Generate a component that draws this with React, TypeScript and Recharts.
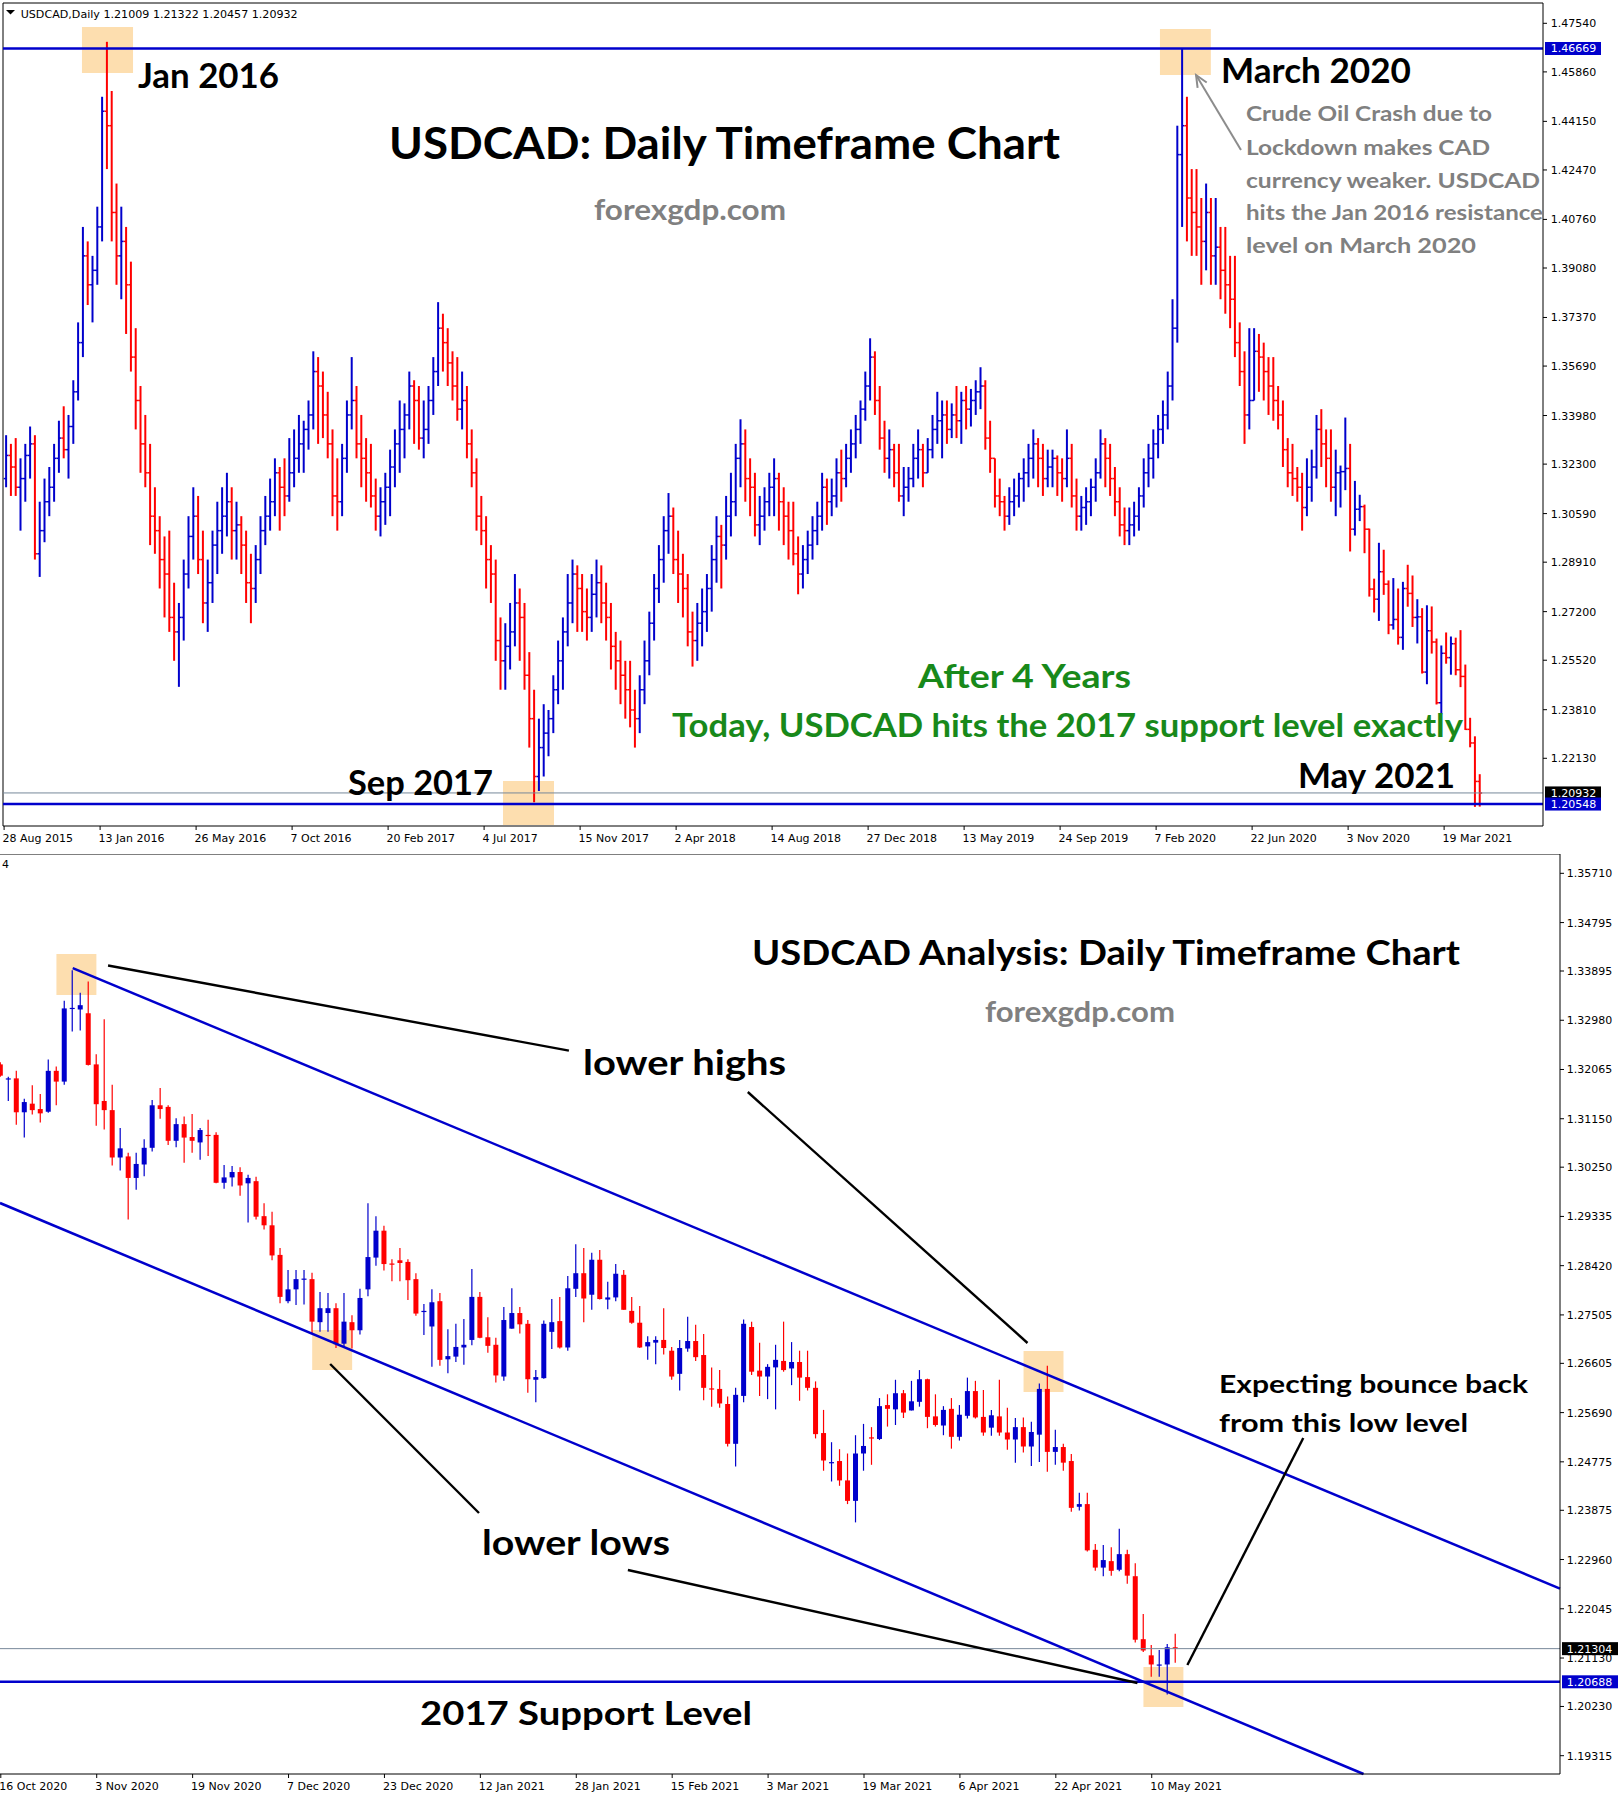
import React from "react";
import { ComposedChart, Bar, XAxis, YAxis, ReferenceLine, ReferenceArea } from "recharts";

const BLUE = "#0000CC";
const RED = "#FF0000";
const BID = "#778899";
const BOX = "#FDDEAF";
const AXIS_FONT = "'DejaVu Sans', Tahoma, sans-serif";
const NOTE_FONT = "Lato, 'Open Sans', sans-serif";

// ---- top chart: USDCAD Aug 2015 - May 2021, one bar per week (open = previous close)
const TOP_FIRST_OPEN = 1.318;
const topHigh = [
  1.333, 1.330, 1.332, 1.325, 1.330, 1.336, 1.333, 1.310, 1.318, 1.322,
  1.330, 1.338, 1.343, 1.340, 1.352, 1.372, 1.405, 1.400, 1.395, 1.412,
  1.450, 1.469, 1.452, 1.420, 1.412, 1.405, 1.393, 1.370, 1.350, 1.340,
  1.330, 1.315, 1.305, 1.298, 1.300, 1.282, 1.275, 1.290, 1.305, 1.315,
  1.312, 1.300, 1.290, 1.300, 1.310, 1.315, 1.320, 1.315, 1.310, 1.305,
  1.300, 1.292, 1.295, 1.305, 1.312, 1.318, 1.325, 1.322, 1.325, 1.332,
  1.335, 1.340, 1.338, 1.345, 1.362, 1.360, 1.355, 1.348, 1.335, 1.325,
  1.330, 1.345, 1.360, 1.350, 1.340, 1.332, 1.330, 1.318, 1.315, 1.320,
  1.328, 1.335, 1.345, 1.344, 1.355, 1.352, 1.350, 1.345, 1.350, 1.360,
  1.379, 1.375, 1.370, 1.362, 1.360, 1.355, 1.350, 1.335, 1.325, 1.312,
  1.305, 1.295, 1.290, 1.270, 1.268, 1.275, 1.285, 1.280, 1.275, 1.258,
  1.245, 1.235, 1.240, 1.238, 1.250, 1.262, 1.270, 1.285, 1.290, 1.288,
  1.285, 1.280, 1.285, 1.290, 1.288, 1.282, 1.275, 1.265, 1.262, 1.255,
  1.255, 1.245, 1.250, 1.262, 1.272, 1.285, 1.295, 1.305, 1.313, 1.308,
  1.300, 1.292, 1.285, 1.272, 1.275, 1.280, 1.285, 1.295, 1.305, 1.302,
  1.312, 1.320, 1.330, 1.3385, 1.335, 1.325, 1.320, 1.312, 1.315, 1.320,
  1.325, 1.320, 1.315, 1.310, 1.310, 1.298, 1.295, 1.300, 1.305, 1.310,
  1.320, 1.318, 1.318, 1.325, 1.328, 1.330, 1.335, 1.340, 1.345, 1.355,
  1.3665, 1.362, 1.350, 1.338, 1.335, 1.330, 1.330, 1.322, 1.322, 1.330,
  1.335, 1.330, 1.332, 1.340, 1.348, 1.345, 1.345, 1.344, 1.350, 1.348,
  1.350, 1.349, 1.352, 1.3565, 1.352, 1.338, 1.325, 1.318, 1.312, 1.315,
  1.318, 1.320, 1.325, 1.330, 1.335, 1.332, 1.330, 1.328, 1.328, 1.326,
  1.325, 1.335, 1.330, 1.318, 1.312, 1.315, 1.318, 1.325, 1.335, 1.332,
  1.330, 1.322, 1.315, 1.308, 1.308, 1.310, 1.315, 1.325, 1.330, 1.335,
  1.340, 1.345, 1.355, 1.380, 1.440, 1.4667, 1.450, 1.425, 1.425, 1.415,
  1.420, 1.415, 1.415, 1.405, 1.405, 1.395, 1.395, 1.372, 1.362, 1.370,
  1.370, 1.368, 1.365, 1.360, 1.360, 1.350, 1.345, 1.332, 1.330, 1.322,
  1.320, 1.325, 1.328, 1.340, 1.342, 1.335, 1.335, 1.328,
  1.3225, 1.3391, 1.3300, 1.3172, 1.3124, 1.3090, 1.3007, 1.2834, 1.2958, 1.2934,
  1.2828, 1.2836, 1.2800, 1.2823, 1.2882, 1.2845, 1.2763, 1.2732, 1.2742, 1.2738,
  1.2627, 1.2603, 1.2648, 1.2634, 1.2630, 1.2656, 1.2537, 1.2353, 1.2289, 1.2158,
];
const topLow = [
  1.315, 1.312, 1.312, 1.300, 1.310, 1.318, 1.290, 1.284, 1.296, 1.305,
  1.310, 1.320, 1.325, 1.318, 1.330, 1.345, 1.360, 1.378, 1.372, 1.385,
  1.400, 1.425, 1.400, 1.385, 1.380, 1.368, 1.355, 1.335, 1.320, 1.315,
  1.295, 1.292, 1.280, 1.270, 1.265, 1.255, 1.246, 1.262, 1.280, 1.290,
  1.285, 1.268, 1.265, 1.275, 1.285, 1.292, 1.298, 1.290, 1.290, 1.285,
  1.275, 1.268, 1.275, 1.285, 1.295, 1.300, 1.305, 1.300, 1.305, 1.310,
  1.315, 1.320, 1.320, 1.328, 1.335, 1.330, 1.332, 1.325, 1.305, 1.300,
  1.305, 1.320, 1.335, 1.325, 1.315, 1.310, 1.308, 1.300, 1.298, 1.302,
  1.305, 1.315, 1.320, 1.325, 1.335, 1.330, 1.328, 1.325, 1.330, 1.340,
  1.350, 1.355, 1.350, 1.345, 1.338, 1.335, 1.325, 1.315, 1.300, 1.295,
  1.280, 1.275, 1.255, 1.245, 1.245, 1.252, 1.260, 1.255, 1.245, 1.225,
  1.2061, 1.210, 1.215, 1.222, 1.230, 1.240, 1.245, 1.260, 1.268, 1.265,
  1.265, 1.262, 1.265, 1.270, 1.268, 1.262, 1.252, 1.245, 1.240, 1.235,
  1.232, 1.225, 1.230, 1.240, 1.250, 1.262, 1.275, 1.282, 1.292, 1.285,
  1.275, 1.270, 1.260, 1.253, 1.255, 1.260, 1.265, 1.272, 1.282, 1.280,
  1.290, 1.298, 1.305, 1.315, 1.310, 1.305, 1.298, 1.295, 1.300, 1.305,
  1.305, 1.300, 1.295, 1.290, 1.288, 1.278, 1.280, 1.285, 1.290, 1.295,
  1.300, 1.302, 1.305, 1.308, 1.310, 1.315, 1.320, 1.325, 1.330, 1.338,
  1.345, 1.340, 1.328, 1.320, 1.318, 1.315, 1.310, 1.305, 1.310, 1.315,
  1.318, 1.315, 1.320, 1.325, 1.330, 1.325, 1.330, 1.332, 1.332, 1.330,
  1.335, 1.336, 1.340, 1.342, 1.328, 1.320, 1.308, 1.305, 1.300, 1.302,
  1.305, 1.308, 1.310, 1.315, 1.318, 1.315, 1.312, 1.315, 1.315, 1.312,
  1.310, 1.315, 1.308, 1.300, 1.300, 1.302, 1.305, 1.310, 1.318, 1.315,
  1.312, 1.305, 1.298, 1.295, 1.295, 1.298, 1.300, 1.308, 1.315, 1.318,
  1.325, 1.330, 1.335, 1.345, 1.365, 1.405, 1.400, 1.395, 1.395, 1.385,
  1.390, 1.385, 1.385, 1.380, 1.375, 1.370, 1.360, 1.350, 1.330, 1.335,
  1.345, 1.348, 1.345, 1.340, 1.338, 1.335, 1.322, 1.315, 1.312, 1.310,
  1.300, 1.305, 1.310, 1.318, 1.322, 1.315, 1.310, 1.305,
  1.3080, 1.3140, 1.2928, 1.2983, 1.3033, 1.2922, 1.2772, 1.2717, 1.2688, 1.2778,
  1.2642, 1.2658, 1.2606, 1.2588, 1.2737, 1.2667, 1.2610, 1.2506, 1.2469, 1.2575,
  1.2399, 1.2365, 1.2540, 1.2502, 1.2500, 1.2459, 1.2311, 1.2251, 1.2045, 1.2046,
];
const topClose = [
  1.326, 1.322, 1.315, 1.318, 1.326, 1.330, 1.292, 1.300, 1.310, 1.315,
  1.325, 1.332, 1.328, 1.336, 1.348, 1.365, 1.395, 1.385, 1.390, 1.405,
  1.445, 1.440, 1.410, 1.395, 1.400, 1.385, 1.360, 1.345, 1.330, 1.320,
  1.305, 1.300, 1.290, 1.285, 1.270, 1.265, 1.270, 1.285, 1.298, 1.305,
  1.290, 1.275, 1.282, 1.295, 1.300, 1.305, 1.310, 1.300, 1.302, 1.295,
  1.282, 1.280, 1.290, 1.300, 1.305, 1.310, 1.320, 1.315, 1.312, 1.320,
  1.325, 1.330, 1.335, 1.340, 1.355, 1.350, 1.340, 1.330, 1.312, 1.310,
  1.325, 1.340, 1.345, 1.330, 1.325, 1.320, 1.312, 1.305, 1.310, 1.315,
  1.322, 1.330, 1.335, 1.340, 1.350, 1.345, 1.332, 1.335, 1.345, 1.355,
  1.370, 1.365, 1.358, 1.350, 1.342, 1.345, 1.330, 1.320, 1.305, 1.300,
  1.290, 1.285, 1.262, 1.255, 1.260, 1.265, 1.275, 1.270, 1.250, 1.235,
  1.215, 1.225, 1.230, 1.235, 1.245, 1.255, 1.265, 1.275, 1.285, 1.280,
  1.272, 1.270, 1.278, 1.282, 1.275, 1.270, 1.260, 1.255, 1.250, 1.245,
  1.238, 1.235, 1.245, 1.255, 1.268, 1.280, 1.290, 1.300, 1.305, 1.290,
  1.285, 1.280, 1.265, 1.262, 1.268, 1.272, 1.280, 1.290, 1.298, 1.295,
  1.305, 1.310, 1.325, 1.330, 1.318, 1.315, 1.302, 1.305, 1.310, 1.315,
  1.318, 1.310, 1.305, 1.300, 1.292, 1.285, 1.290, 1.295, 1.300, 1.305,
  1.315, 1.310, 1.312, 1.320, 1.318, 1.325, 1.330, 1.335, 1.342, 1.350,
  1.360, 1.345, 1.332, 1.325, 1.328, 1.320, 1.312, 1.315, 1.318, 1.325,
  1.328, 1.320, 1.328, 1.335, 1.338, 1.340, 1.335, 1.340, 1.338, 1.345,
  1.342, 1.345, 1.348, 1.350, 1.332, 1.325, 1.312, 1.310, 1.305, 1.310,
  1.312, 1.318, 1.320, 1.325, 1.330, 1.325, 1.318, 1.322, 1.325, 1.320,
  1.318, 1.325, 1.312, 1.305, 1.308, 1.310, 1.315, 1.320, 1.330, 1.325,
  1.318, 1.310, 1.302, 1.300, 1.302, 1.305, 1.312, 1.320, 1.325, 1.330,
  1.335, 1.340, 1.350, 1.370, 1.430, 1.440, 1.415, 1.410, 1.405, 1.400,
  1.410, 1.395, 1.398, 1.390, 1.385, 1.380, 1.365, 1.355, 1.340, 1.345,
  1.362, 1.360, 1.355, 1.350, 1.345, 1.340, 1.328, 1.320, 1.318, 1.315,
  1.308, 1.315, 1.322, 1.335, 1.330, 1.325, 1.315, 1.320,
  1.3204, 1.3215, 1.3005, 1.3074, 1.3083, 1.3005, 1.2798, 1.2763, 1.2858, 1.2815,
  1.2674, 1.2693, 1.2631, 1.2800, 1.2783, 1.2700, 1.2702, 1.2511, 1.2654, 1.2615,
  1.2405, 1.2576, 1.2561, 1.2609, 1.2519, 1.2496, 1.2313, 1.2266, 1.2133, 1.2093,
];
const topTickIdx = [0, 100, 200, 300, 400, 500, 600, 700, 800, 900, 1000, 1100, 1200, 1300, 1400, 1500];
const topTickLabels = [
  "28 Aug 2015", "13 Jan 2016", "26 May 2016", "7 Oct 2016", "20 Feb 2017", "4 Jul 2017",
  "15 Nov 2017", "2 Apr 2018", "14 Aug 2018", "27 Dec 2018", "13 May 2019", "24 Sep 2019",
  "7 Feb 2020", "22 Jun 2020", "3 Nov 2020", "19 Mar 2021",
];
const topPriceTicks = [
  1.4754, 1.4586, 1.4415, 1.4247, 1.4076, 1.3908, 1.3737, 1.3569, 1.3398, 1.323,
  1.3059, 1.2891, 1.272, 1.2552, 1.2381, 1.2213,
];
const TOP_RESIST = 1.46669;
const TOP_SUPPORT = 1.20548;
const TOP_BID = 1.20932;

// ---- bottom chart: daily candles 16 Oct 2020 - 13 May 2021
const botOpen = [
  1.3216, 1.3189, 1.3190, 1.3127, 1.3143, 1.3133, 1.3128, 1.3204, 1.3184, 1.3319,
  1.3318, 1.3311, 1.3216, 1.3148, 1.3131, 1.3043, 1.3045, 1.3005, 1.3030, 1.3061,
  1.3140, 1.3137, 1.3074, 1.3105, 1.3081, 1.3071, 1.3085, 1.3085, 1.2996, 1.3006,
  1.3016, 1.2995, 1.2999, 1.2934, 1.2917, 1.2862, 1.2776, 1.2798, 1.2816, 1.2817,
  1.2737, 1.2754, 1.2763, 1.2697, 1.2737, 1.2722, 1.2798, 1.2857, 1.2907, 1.2846,
  1.2852, 1.2849, 1.2817, 1.2757, 1.2729, 1.2776, 1.2668, 1.2673, 1.2690, 1.2704,
  1.2784, 1.2709, 1.2695, 1.2636, 1.2725, 1.2754, 1.2734, 1.2630, 1.2633, 1.2719,
  1.2739, 1.2690, 1.2799, 1.2828, 1.2788, 1.2853, 1.2779, 1.2783, 1.2825, 1.2758,
  1.2736, 1.2692, 1.2699, 1.2704, 1.2684, 1.2641, 1.2688, 1.2702, 1.2676, 1.2614,
  1.2613, 1.2585, 1.2511, 1.2600, 1.2728, 1.2647, 1.2636, 1.2653, 1.2665, 1.2651,
  1.2663, 1.2635, 1.2615, 1.2531, 1.2476, 1.2479, 1.2443, 1.2405, 1.2493, 1.2523,
  1.2520, 1.2583, 1.2575, 1.2605, 1.2573, 1.2589, 1.2631, 1.2562, 1.2545, 1.2576,
  1.2524, 1.2563, 1.2609, 1.2561, 1.2541, 1.2562, 1.2532, 1.2519, 1.2542, 1.2506,
  1.2528, 1.2613, 1.2496, 1.2505, 1.2479, 1.2394, 1.2399, 1.2314, 1.2281, 1.2293,
  1.2277, 1.2306, 1.2265, 1.2148, 1.2118, 1.2100, 1.2101, 1.2133,
];
const botHigh = [
  1.3220, 1.3193, 1.3204, 1.3152, 1.3177, 1.3161, 1.3225, 1.3212, 1.3334, 1.3391,
  1.3349, 1.3370, 1.3235, 1.3300, 1.3178, 1.3098, 1.3052, 1.3052, 1.3077, 1.3150,
  1.3172, 1.3140, 1.3116, 1.3119, 1.3124, 1.3098, 1.3113, 1.3090, 1.3029, 1.3027,
  1.3025, 1.3011, 1.3007, 1.2958, 1.2942, 1.2875, 1.2834, 1.2834, 1.2834, 1.2829,
  1.2793, 1.2791, 1.2772, 1.2791, 1.2750, 1.2799, 1.2958, 1.2934, 1.2916, 1.2854,
  1.2875, 1.2854, 1.2828, 1.2771, 1.2798, 1.2791, 1.2724, 1.2734, 1.2743, 1.2836,
  1.2793, 1.2746, 1.2708, 1.2765, 1.2800, 1.2765, 1.2741, 1.2648, 1.2740, 1.2780,
  1.2784, 1.2823, 1.2882, 1.2875, 1.2866, 1.2871, 1.2812, 1.2845, 1.2834, 1.2784,
  1.2767, 1.2711, 1.2711, 1.2763, 1.2691, 1.2704, 1.2747, 1.2732, 1.2715, 1.2653,
  1.2648, 1.2599, 1.2615, 1.2742, 1.2738, 1.2699, 1.2659, 1.2695, 1.2738, 1.2700,
  1.2684, 1.2684, 1.2627, 1.2574, 1.2514, 1.2501, 1.2493, 1.2527, 1.2548, 1.2542,
  1.2596, 1.2603, 1.2630, 1.2611, 1.2628, 1.2648, 1.2632, 1.2603, 1.2581, 1.2596,
  1.2583, 1.2634, 1.2628, 1.2611, 1.2574, 1.2630, 1.2578, 1.2559, 1.2560, 1.2552,
  1.2623, 1.2656, 1.2537, 1.2511, 1.2492, 1.2420, 1.2420, 1.2325, 1.2323, 1.2319,
  1.2353, 1.2314, 1.2289, 1.2195, 1.2137, 1.2128, 1.2139, 1.2158,
];
const botLow = [
  1.3193, 1.3148, 1.3104, 1.3080, 1.3123, 1.3108, 1.3126, 1.3140, 1.3178, 1.3277,
  1.3279, 1.3214, 1.3102, 1.3095, 1.3028, 1.3019, 1.2928, 1.2983, 1.3008, 1.3054,
  1.3115, 1.3066, 1.3062, 1.3033, 1.3052, 1.3039, 1.3046, 1.2995, 1.2985, 1.2989,
  1.2972, 1.2922, 1.2928, 1.2909, 1.2852, 1.2772, 1.2772, 1.2769, 1.2770, 1.2717,
  1.2719, 1.2719, 1.2689, 1.2691, 1.2688, 1.2714, 1.2785, 1.2842, 1.2833, 1.2813,
  1.2813, 1.2778, 1.2749, 1.2713, 1.2654, 1.2656, 1.2642, 1.2663, 1.2658, 1.2694,
  1.2707, 1.2680, 1.2625, 1.2628, 1.2725, 1.2716, 1.2606, 1.2588, 1.2632, 1.2687,
  1.2688, 1.2684, 1.2784, 1.2737, 1.2760, 1.2779, 1.2761, 1.2776, 1.2760, 1.2734,
  1.2689, 1.2667, 1.2659, 1.2677, 1.2630, 1.2610, 1.2682, 1.2665, 1.2592, 1.2580,
  1.2578, 1.2506, 1.2469, 1.2588, 1.2639, 1.2600, 1.2594, 1.2575, 1.2645, 1.2620,
  1.2591, 1.2610, 1.2521, 1.2461, 1.2441, 1.2433, 1.2399, 1.2365, 1.2461, 1.2472,
  1.2518, 1.2543, 1.2546, 1.2559, 1.2573, 1.2580, 1.2540, 1.2543, 1.2527, 1.2502,
  1.2517, 1.2558, 1.2558, 1.2526, 1.2526, 1.2526, 1.2500, 1.2476, 1.2495, 1.2470,
  1.2477, 1.2459, 1.2472, 1.2461, 1.2385, 1.2387, 1.2311, 1.2275, 1.2265, 1.2266,
  1.2274, 1.2251, 1.2142, 1.2124, 1.2078, 1.2078, 1.2045, 1.2104,
];
const botClose = [
  1.3195, 1.3190, 1.3127, 1.3146, 1.3131, 1.3125, 1.3204, 1.3184, 1.3320, 1.3321,
  1.3326, 1.3215, 1.3142, 1.3131, 1.3043, 1.3060, 1.3005, 1.3031, 1.3061, 1.3140,
  1.3133, 1.3074, 1.3105, 1.3080, 1.3074, 1.3094, 1.3083, 1.2996, 1.3006, 1.3016,
  1.2991, 1.3005, 1.2933, 1.2917, 1.2861, 1.2784, 1.2798, 1.2817, 1.2818, 1.2738,
  1.2763, 1.2763, 1.2696, 1.2738, 1.2722, 1.2782, 1.2858, 1.2907, 1.2845, 1.2844,
  1.2847, 1.2815, 1.2753, 1.2758, 1.2774, 1.2667, 1.2674, 1.2691, 1.2695, 1.2784,
  1.2708, 1.2693, 1.2638, 1.2741, 1.2754, 1.2733, 1.2631, 1.2635, 1.2734, 1.2737,
  1.2690, 1.2800, 1.2828, 1.2781, 1.2853, 1.2780, 1.2783, 1.2827, 1.2760, 1.2736,
  1.2690, 1.2700, 1.2704, 1.2689, 1.2636, 1.2689, 1.2702, 1.2672, 1.2615, 1.2613,
  1.2586, 1.2511, 1.2602, 1.2734, 1.2645, 1.2636, 1.2654, 1.2667, 1.2648, 1.2663,
  1.2634, 1.2615, 1.2529, 1.2480, 1.2477, 1.2443, 1.2405, 1.2493, 1.2507, 1.2522,
  1.2581, 1.2576, 1.2605, 1.2569, 1.2590, 1.2631, 1.2561, 1.2546, 1.2574, 1.2524,
  1.2565, 1.2609, 1.2560, 1.2532, 1.2564, 1.2532, 1.2519, 1.2542, 1.2506, 1.2533,
  1.2613, 1.2496, 1.2505, 1.2476, 1.2392, 1.2399, 1.2313, 1.2281, 1.2295, 1.2275,
  1.2306, 1.2266, 1.2147, 1.2127, 1.2101, 1.2101, 1.2133, 1.2132,
];
const botTickIdx = [0, 12, 24, 36, 48, 60, 72, 84, 96, 108, 120, 132, 144];
const botTickLabels = [
  "16 Oct 2020", "3 Nov 2020", "19 Nov 2020", "7 Dec 2020", "23 Dec 2020", "12 Jan 2021",
  "28 Jan 2021", "15 Feb 2021", "3 Mar 2021", "19 Mar 2021", "6 Apr 2021", "22 Apr 2021", "10 May 2021",
];
const botPriceTicks = [
  1.3571, 1.34795, 1.33895, 1.3298, 1.32065, 1.3115, 1.3025, 1.29335, 1.2842, 1.27505,
  1.26605, 1.2569, 1.24775, 1.23875, 1.2296, 1.22045, 1.2113, 1.2023, 1.19315,
];
const BOT_SUPPORT = 1.20688;
const BOT_BID = 1.21304;

// tables for recharts
const topData = topHigh.map((h, w) => ({
  idx: 5 * w + 2.5,
  o: w === 0 ? TOP_FIRST_OPEN : topClose[w - 1],
  h,
  l: topLow[w],
  c: topClose[w],
  range: [topLow[w], h],
}));
const botData = botOpen.map((o, n) => ({
  n,
  o,
  h: botHigh[n],
  l: botLow[n],
  c: botClose[n],
  range: [botLow[n], botHigh[n]],
}));

const TOP_X: [number, number] = [-1.15, 1603];
const TOP_Y: [number, number] = [1.19789, 1.48242];
const BOT_X: [number, number] = [-0.1, 195.08];
const BOT_Y: [number, number] = [1.18975, 1.36069];

// weekly bars: open/close ticks reach half-way to the neighbours so the bars join up
function OhlcShape(props: any) {
  const { x, y, width, height, payload } = props;
  if (!payload || height == null) return null;
  const { o, h, l, c } = payload;
  const cx = x + width / 2;
  const half = 2.4;
  const py = (v: number) => y + ((h - v) / (h - l)) * height;
  const col = c >= o ? BLUE : RED;
  return (
    <g>
      <line x1={cx} x2={cx} y1={y} y2={y + height} stroke={col} strokeWidth={2} />
      <line x1={cx - half} x2={cx} y1={py(o)} y2={py(o)} stroke={col} strokeWidth={1.5} />
      <line x1={cx} x2={cx + half} y1={py(c)} y2={py(c)} stroke={col} strokeWidth={1.5} />
    </g>
  );
}

function CandleShape(props: any) {
  const { x, y, width, height, payload } = props;
  if (!payload || height == null) return null;
  const { o, h, l, c } = payload;
  const cx = x + width / 2;
  const py = (v: number) => y + ((h - v) / (h - l)) * height;
  const col = c >= o ? BLUE : RED;
  const top = py(Math.max(o, c));
  const bot = py(Math.min(o, c));
  return (
    <g>
      <line x1={cx} x2={cx} y1={y} y2={y + height} stroke={col} strokeWidth={1.2} />
      <rect x={cx - 2.5} y={top} width={5} height={Math.max(bot - top, 1.2)} fill={col} />
    </g>
  );
}

function makeDateTick(idx: number[], labels: string[]) {
  return function DateTick(props: any) {
    const { x, y, payload } = props;
    const i = idx.indexOf(payload.value);
    return (
      <g>
        <line x1={x} x2={x} y1={y} y2={y + 4} stroke="#000" strokeWidth={1} />
        <text x={x - 1.5} y={y + 15.5} fontFamily={AXIS_FONT} fontSize={11} fill="#000">
          {i >= 0 ? labels[i] : ""}
        </text>
      </g>
    );
  };
}

function makePriceTick(marks: Record<string, string>, textDx: number) {
  return function PriceTick(props: any) {
    const { x, y, payload } = props;
    const key = Number(payload.value).toFixed(5);
    const bg = marks[key];
    if (bg) {
      return (
        <g>
          <rect x={x + 2} y={y - 6.5} width={56} height={13} fill={bg} />
          <text x={x + textDx} y={y + 4} fontFamily={AXIS_FONT} fontSize={11} fill="#fff">{key}</text>
        </g>
      );
    }
    return (
      <g>
        <line x1={x} x2={x + 4} y1={y} y2={y} stroke="#000" strokeWidth={1} />
        <text x={x + textDx} y={y + 4} fontFamily={AXIS_FONT} fontSize={11} fill="#000">{key}</text>
      </g>
    );
  };
}

function ArrowShape(props: any) {
  const { x1, y1, x2, y2 } = props;
  if (x1 == null) return null;
  const ang = Math.atan2(y2 - y1, x2 - x1);
  const L = 13;
  const a = 0.42;
  const p1 = `${x2 - L * Math.cos(ang - a)},${y2 - L * Math.sin(ang - a)}`;
  const p2 = `${x2 - L * Math.cos(ang + a)},${y2 - L * Math.sin(ang + a)}`;
  return (
    <g>
      <line x1={x1} y1={y1} x2={x2} y2={y2} stroke="#8c8c8c" strokeWidth={2} />
      <polyline points={`${p1} ${x2},${y2} ${p2}`} fill="none" stroke="#8c8c8c" strokeWidth={2} />
    </g>
  );
}

const TopDateTick = makeDateTick(topTickIdx, topTickLabels);
const BotDateTick = makeDateTick(botTickIdx, botTickLabels);
const TopPriceTick = makePriceTick(
  { [TOP_RESIST.toFixed(5)]: BLUE, [TOP_BID.toFixed(5)]: "#000", [TOP_SUPPORT.toFixed(5)]: BLUE },
  7.7,
);
const BotPriceTick = makePriceTick(
  { [BOT_BID.toFixed(5)]: "#000", [BOT_SUPPORT.toFixed(5)]: BLUE },
  6.7,
);

type Note = { t: string; x: number; y: number; w: number; size: number; color: string; font?: string; weight?: number };
const GREY = "#808080";
const GREEN = "#18891A";
const notes: Note[] = [
  { t: "USDCAD,Daily  1.21009 1.21322 1.20457 1.20932", x: 20.7, y: 17.5, w: 277, size: 11, color: "#000", font: AXIS_FONT, weight: 400 },
  { t: "Jan 2016", x: 138, y: 88, w: 141, size: 35, color: "#000" },
  { t: "USDCAD: Daily Timeframe Chart", x: 389, y: 159, w: 671, size: 43, color: "#000" },
  { t: "forexgdp.com", x: 594, y: 220, w: 192, size: 28, color: GREY },
  { t: "March 2020", x: 1221, y: 83, w: 190, size: 35, color: "#000" },
  { t: "Crude Oil Crash due to", x: 1246, y: 120.7, w: 246, size: 21, color: GREY },
  { t: "Lockdown makes CAD", x: 1246, y: 155, w: 244, size: 21, color: GREY },
  { t: "currency weaker. USDCAD", x: 1246, y: 188.3, w: 294, size: 21, color: GREY },
  { t: "hits the Jan 2016 resistance", x: 1246, y: 220, w: 297, size: 21, color: GREY },
  { t: "level on March 2020", x: 1246, y: 253.3, w: 230, size: 21, color: GREY },
  { t: "After 4 Years", x: 918, y: 688, w: 213, size: 33, color: GREEN },
  { t: "Today, USDCAD hits the 2017 support level exactly", x: 672, y: 737, w: 791, size: 33, color: GREEN },
  { t: "Sep 2017", x: 348, y: 795, w: 145, size: 35, color: "#000" },
  { t: "May 2021", x: 1298, y: 788, w: 157, size: 35, color: "#000" },
  { t: "4", x: 2, y: 868, w: 7, size: 11, color: "#000", font: AXIS_FONT, weight: 400 },
  { t: "USDCAD Analysis: Daily Timeframe Chart", x: 752, y: 965, w: 708, size: 35, color: "#000" },
  { t: "forexgdp.com", x: 985, y: 1022, w: 190, size: 28, color: GREY },
  { t: "lower highs", x: 583, y: 1075, w: 203, size: 35, color: "#000" },
  { t: "lower lows", x: 482, y: 1555, w: 188, size: 35, color: "#000" },
  { t: "Expecting bounce back", x: 1219, y: 1393, w: 309, size: 25, color: "#000" },
  { t: "from this low level", x: 1219, y: 1432, w: 249, size: 25, color: "#000" },
  { t: "2017 Support Level", x: 420, y: 1725, w: 332, size: 33, color: "#000" },
];

export default function App() {
  return (
    <div style={{ position: "relative", width: 1624, height: 1800, background: "#fff", overflow: "hidden" }}>
      <style>{"body{margin:0}"}</style>

      {/* top: long-term daily chart */}
      <div style={{ position: "absolute", left: 0, top: 0 }}>
        <ComposedChart width={1624} height={855} data={topData} margin={{ top: 3, right: 0, bottom: 0, left: 3 }}>
          <XAxis
            dataKey="idx"
            type="number"
            domain={TOP_X}
            allowDataOverflow
            ticks={topTickIdx}
            interval={0}
            height={29}
            tickSize={0}
            tickMargin={0}
            tickLine={false}
            axisLine={{ stroke: "#000" }}
            tick={TopDateTick}
          />
          <YAxis
            orientation="right"
            type="number"
            domain={TOP_Y}
            allowDataOverflow
            ticks={[...topPriceTicks, TOP_RESIST, TOP_BID, TOP_SUPPORT]}
            interval={0}
            width={81}
            tickSize={0}
            tickMargin={0}
            tickLine={false}
            axisLine={{ stroke: "#000" }}
            tick={TopPriceTick}
          />
          <ReferenceArea x1={81.1} x2={134.3} y1={1.45822} y2={1.47412} fill={BOX} fillOpacity={1} stroke="none" />
          <ReferenceArea x1={1204} x2={1257} y1={1.45753} y2={1.47343} fill={BOX} fillOpacity={1} stroke="none" />
          <ReferenceArea x1={519.7} x2={572.8} y1={1.19824} y2={1.21345} fill={BOX} fillOpacity={1} stroke="none" />
          <ReferenceLine y={TOP_Y[1]} stroke="#000" strokeWidth={1} />
          <ReferenceLine x={TOP_X[0]} stroke="#000" strokeWidth={1} />
          <ReferenceLine y={TOP_BID} stroke={BID} strokeWidth={1} />
          <ReferenceLine y={TOP_RESIST} stroke={BLUE} strokeWidth={2.4} />
          <ReferenceLine y={TOP_SUPPORT} stroke={BLUE} strokeWidth={2.4} />
          <Bar dataKey="range" barSize={4} shape={OhlcShape} isAnimationActive={false} />
          <ReferenceLine
            segment={[{ x: 1288.4, y: 1.4316 }, { x: 1241.6, y: 1.45753 }]}
            shape={ArrowShape}
          />
        </ComposedChart>
      </div>

      {/* bottom: daily candles with falling channel */}
      <div style={{ position: "absolute", left: 0, top: 854 }}>
        <ComposedChart width={1624} height={946} data={botData} margin={{ top: 0, right: 0, bottom: 0, left: 0 }}>
          <XAxis
            dataKey="n"
            type="number"
            domain={BOT_X}
            allowDataOverflow
            ticks={botTickIdx}
            interval={0}
            height={26}
            tickSize={0}
            tickMargin={0}
            tickLine={false}
            axisLine={{ stroke: "#000" }}
            tick={BotDateTick}
          />
          <YAxis
            orientation="right"
            type="number"
            domain={BOT_Y}
            allowDataOverflow
            ticks={[...botPriceTicks, BOT_BID, BOT_SUPPORT]}
            interval={0}
            width={64}
            tickSize={0}
            tickMargin={0}
            tickLine={false}
            axisLine={{ stroke: "#000" }}
            tick={BotPriceTick}
          />
          <ReferenceArea x1={6.96} x2={11.96} y1={1.3345} y2={1.34211} fill={BOX} fillOpacity={1} stroke="none" />
          <ReferenceArea x1={38.96} x2={43.96} y1={1.26482} y2={1.27225} fill={BOX} fillOpacity={1} stroke="none" />
          <ReferenceArea x1={127.96} x2={132.96} y1={1.26073} y2={1.26835} fill={BOX} fillOpacity={1} stroke="none" />
          <ReferenceArea x1={142.96} x2={147.96} y1={1.20218} y2={1.20961} fill={BOX} fillOpacity={1} stroke="none" />
          <ReferenceLine y={BOT_Y[1]} stroke="#000" strokeWidth={1.2} />
          <ReferenceLine y={BOT_BID} stroke={BID} strokeWidth={1} />
          <ReferenceLine y={BOT_SUPPORT} stroke={BLUE} strokeWidth={2.4} />
          <Bar dataKey="range" barSize={5} shape={CandleShape} isAnimationActive={false} />
          {/* channel */}
          <ReferenceLine segment={[{ x: 9, y: 1.3395 }, { x: 195.08, y: 1.22419 }]} stroke={BLUE} strokeWidth={2.5} />
          <ReferenceLine segment={[{ x: -0.1, y: 1.29584 }, { x: 170.5, y: 1.18975 }]} stroke={BLUE} strokeWidth={2.5} />
          {/* pointers */}
          <ReferenceLine segment={[{ x: 13.42, y: 1.33997 }, { x: 71.08, y: 1.32416 }]} stroke="#000" strokeWidth={2.4} />
          <ReferenceLine segment={[{ x: 93.46, y: 1.31647 }, { x: 128.46, y: 1.26983 }]} stroke="#000" strokeWidth={2.4} />
          <ReferenceLine segment={[{ x: 41.21, y: 1.26593 }, { x: 59.83, y: 1.23824 }]} stroke="#000" strokeWidth={2.4} />
          <ReferenceLine segment={[{ x: 78.46, y: 1.22765 }, { x: 142.21, y: 1.20666 }]} stroke="#000" strokeWidth={2.4} />
          <ReferenceLine segment={[{ x: 148.46, y: 1.21 }, { x: 162.96, y: 1.25218 }]} stroke="#000" strokeWidth={2.4} />
        </ComposedChart>
      </div>

      {/* text annotations */}
      <svg width={1624} height={1800} style={{ position: "absolute", left: 0, top: 0, pointerEvents: "none" }}>
        <polygon points="6,10 15,10 10.5,14.5" fill="#000" />
        {notes.map((n, i) => (
          <text
            key={i}
            x={n.x}
            y={n.y}
            fontFamily={n.font ?? NOTE_FONT}
            fontWeight={n.weight ?? 700}
            fontSize={n.size}
            fill={n.color}
            textLength={n.w}
            lengthAdjust="spacingAndGlyphs"
          >
            {n.t}
          </text>
        ))}
      </svg>
    </div>
  );
}
